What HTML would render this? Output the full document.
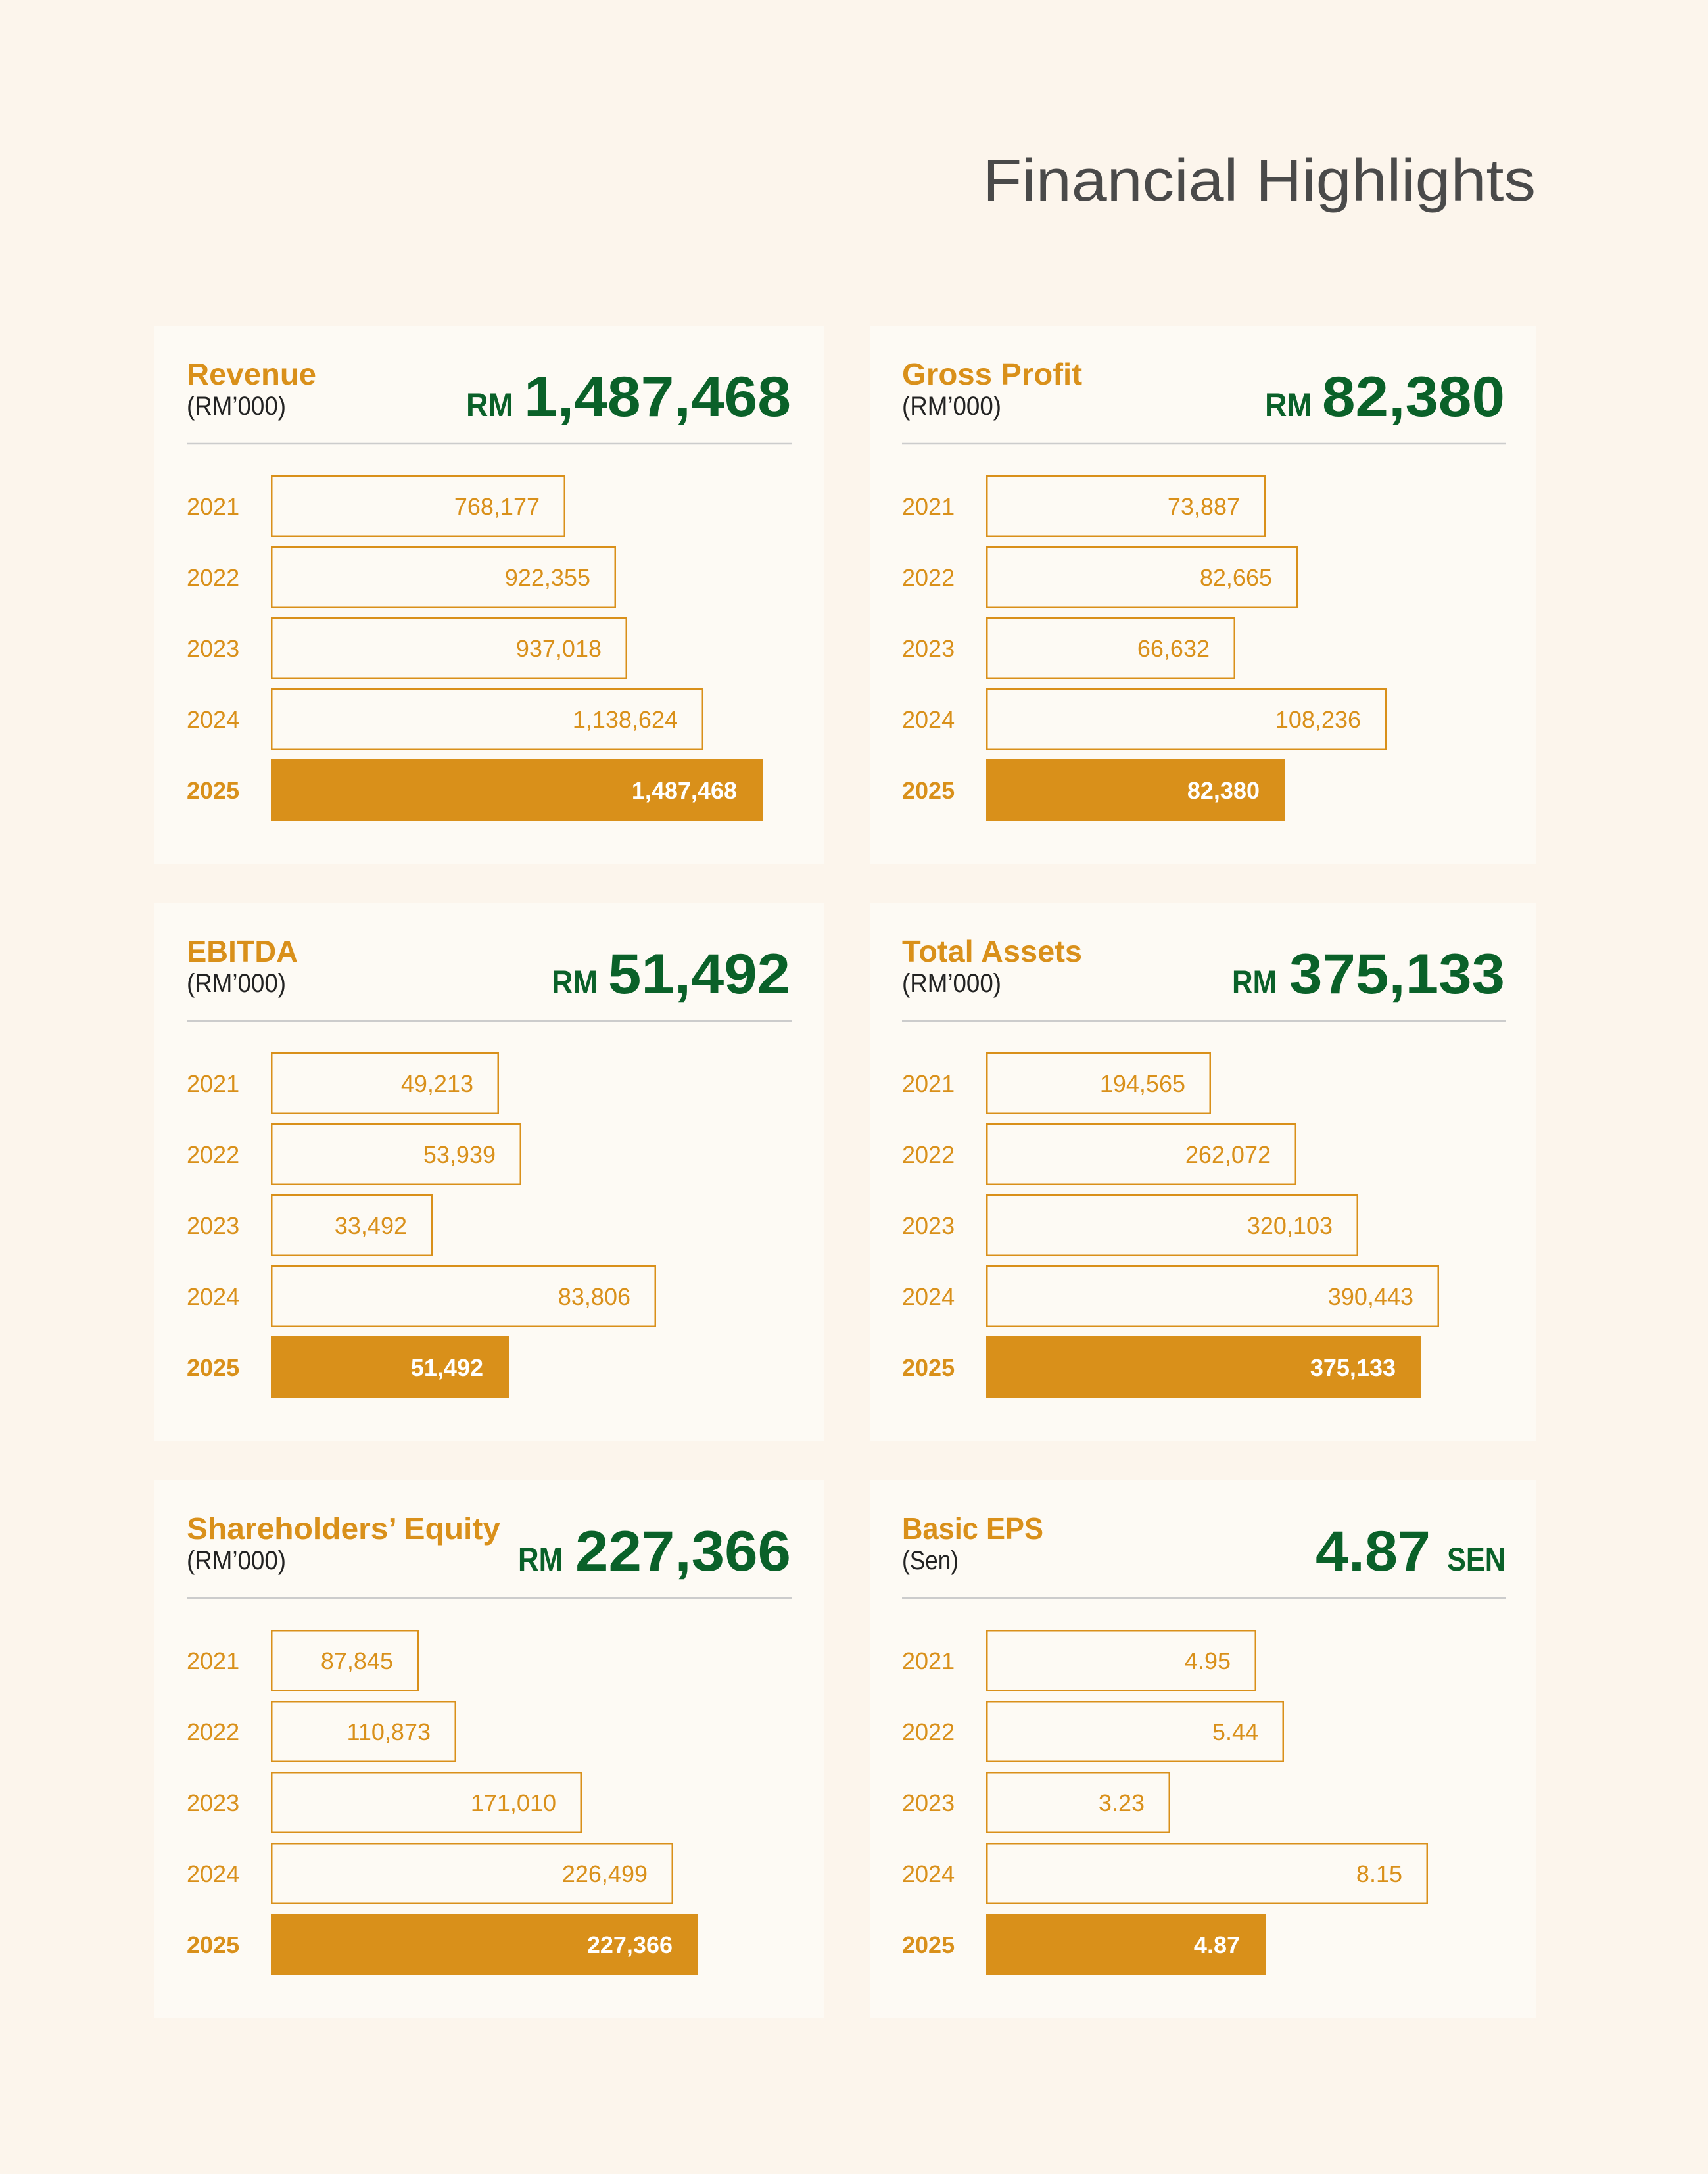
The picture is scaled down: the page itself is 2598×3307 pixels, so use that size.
<!DOCTYPE html>
<html><head><meta charset="utf-8"><style>
html,body{margin:0;padding:0;background:#fcf5ec;}
svg{display:block}
text{font-family:"Liberation Sans",sans-serif}
.h{font-weight:bold;font-size:46px;fill:#d9901a}
.s{font-size:40px;fill:#222}
.big{font-weight:bold;font-size:86px;fill:#0a6129}
.rm{font-weight:bold;font-size:50px;fill:#0a6129}
.y{font-size:36px;fill:#d9901a}
.yb{font-size:36px;fill:#d9901a;font-weight:bold}
.v{font-size:36px;fill:#d9901a;text-anchor:end}
.vb{font-size:36px;fill:#fff;font-weight:bold;text-anchor:end}
.o{fill:none;stroke:#d9901a;stroke-width:2.5}
.f{fill:#d9901a}
.card{fill:#fdfaf4}
.ln{stroke:#cccccc;stroke-width:2.5}
</style></head><body>
<svg width="2598" height="3307" viewBox="0 0 2598 3307" xmlns="http://www.w3.org/2000/svg">
<rect width="2598" height="3307" fill="#fcf5ec"/>
<text x="2336" y="305" font-size="90" fill="#4a4a4a" text-anchor="end" textLength="841" lengthAdjust="spacingAndGlyphs">Financial Highlights</text>

<!-- Revenue -->
<g transform="translate(235,496)">
<rect class="card" width="1018" height="818"/>
<text class="h" x="49" y="89" textLength="197" lengthAdjust="spacingAndGlyphs">Revenue</text>
<text class="s" x="49" y="135" textLength="151" lengthAdjust="spacingAndGlyphs">(RM’000)</text>
<text class="rm" x="474" y="137" textLength="72" lengthAdjust="spacingAndGlyphs">RM</text>
<text class="big" x="562" y="137" textLength="406" lengthAdjust="spacingAndGlyphs">1,487,468</text>
<line class="ln" x1="49" y1="179" x2="970" y2="179"/>
<text class="y" x="49" y="287">2021</text><rect class="o" x="178.25" y="228.25" width="445.5" height="91.5"/><text class="v" x="586" y="287">768,177</text>
<text class="y" x="49" y="395">2022</text><rect class="o" x="178.25" y="336.25" width="522.5" height="91.5"/><text class="v" x="663" y="395">922,355</text>
<text class="y" x="49" y="503">2023</text><rect class="o" x="178.25" y="444.25" width="539.5" height="91.5"/><text class="v" x="680" y="503">937,018</text>
<text class="y" x="49" y="611">2024</text><rect class="o" x="178.25" y="552.25" width="655.5" height="91.5"/><text class="v" x="796" y="611">1,138,624</text>
<text class="yb" x="49" y="719">2025</text><rect class="f" x="177" y="659" width="748" height="94"/><text class="vb" x="886" y="719">1,487,468</text>
</g>

<!-- Gross Profit -->
<g transform="translate(1323,496)">
<rect class="card" width="1014" height="818"/>
<text class="h" x="49" y="89" textLength="274" lengthAdjust="spacingAndGlyphs">Gross Profit</text>
<text class="s" x="49" y="135" textLength="151" lengthAdjust="spacingAndGlyphs">(RM’000)</text>
<text class="rm" x="601" y="137" textLength="72" lengthAdjust="spacingAndGlyphs">RM</text>
<text class="big" x="688" y="137" textLength="278" lengthAdjust="spacingAndGlyphs">82,380</text>
<line class="ln" x1="49" y1="179" x2="968" y2="179"/>
<text class="y" x="49" y="287">2021</text><rect class="o" x="178.25" y="228.25" width="422.5" height="91.5"/><text class="v" x="563" y="287">73,887</text>
<text class="y" x="49" y="395">2022</text><rect class="o" x="178.25" y="336.25" width="471.5" height="91.5"/><text class="v" x="612" y="395">82,665</text>
<text class="y" x="49" y="503">2023</text><rect class="o" x="178.25" y="444.25" width="376.5" height="91.5"/><text class="v" x="517" y="503">66,632</text>
<text class="y" x="49" y="611">2024</text><rect class="o" x="178.25" y="552.25" width="606.5" height="91.5"/><text class="v" x="747" y="611">108,236</text>
<text class="yb" x="49" y="719">2025</text><rect class="f" x="177" y="659" width="455" height="94"/><text class="vb" x="593" y="719">82,380</text>
</g>

<!-- EBITDA -->
<g transform="translate(235,1374)">
<rect class="card" width="1018" height="818"/>
<text class="h" x="49" y="89" textLength="169" lengthAdjust="spacingAndGlyphs">EBITDA</text>
<text class="s" x="49" y="135" textLength="151" lengthAdjust="spacingAndGlyphs">(RM’000)</text>
<text class="rm" x="604" y="137" textLength="70" lengthAdjust="spacingAndGlyphs">RM</text>
<text class="big" x="690" y="137" textLength="277" lengthAdjust="spacingAndGlyphs">51,492</text>
<line class="ln" x1="49" y1="179" x2="970" y2="179"/>
<text class="y" x="49" y="287">2021</text><rect class="o" x="178.25" y="228.25" width="344.5" height="91.5"/><text class="v" x="485" y="287">49,213</text>
<text class="y" x="49" y="395">2022</text><rect class="o" x="178.25" y="336.25" width="378.5" height="91.5"/><text class="v" x="519" y="395">53,939</text>
<text class="y" x="49" y="503">2023</text><rect class="o" x="178.25" y="444.25" width="243.5" height="91.5"/><text class="v" x="384" y="503">33,492</text>
<text class="y" x="49" y="611">2024</text><rect class="o" x="178.25" y="552.25" width="583.5" height="91.5"/><text class="v" x="724" y="611">83,806</text>
<text class="yb" x="49" y="719">2025</text><rect class="f" x="177" y="659" width="362" height="94"/><text class="vb" x="500" y="719">51,492</text>
</g>

<!-- Total Assets -->
<g transform="translate(1323,1374)">
<rect class="card" width="1014" height="818"/>
<text class="h" x="49" y="89" textLength="274" lengthAdjust="spacingAndGlyphs">Total Assets</text>
<text class="s" x="49" y="135" textLength="151" lengthAdjust="spacingAndGlyphs">(RM’000)</text>
<text class="rm" x="551" y="137" textLength="68" lengthAdjust="spacingAndGlyphs">RM</text>
<text class="big" x="638" y="137" textLength="328" lengthAdjust="spacingAndGlyphs">375,133</text>
<line class="ln" x1="49" y1="179" x2="968" y2="179"/>
<text class="y" x="49" y="287">2021</text><rect class="o" x="178.25" y="228.25" width="339.5" height="91.5"/><text class="v" x="480" y="287">194,565</text>
<text class="y" x="49" y="395">2022</text><rect class="o" x="178.25" y="336.25" width="469.5" height="91.5"/><text class="v" x="610" y="395">262,072</text>
<text class="y" x="49" y="503">2023</text><rect class="o" x="178.25" y="444.25" width="563.5" height="91.5"/><text class="v" x="704" y="503">320,103</text>
<text class="y" x="49" y="611">2024</text><rect class="o" x="178.25" y="552.25" width="686.5" height="91.5"/><text class="v" x="827" y="611">390,443</text>
<text class="yb" x="49" y="719">2025</text><rect class="f" x="177" y="659" width="662" height="94"/><text class="vb" x="800" y="719">375,133</text>
</g>

<!-- Shareholders' Equity -->
<g transform="translate(235,2252)">
<rect class="card" width="1018" height="818"/>
<text class="h" x="49" y="89" textLength="477" lengthAdjust="spacingAndGlyphs">Shareholders’ Equity</text>
<text class="s" x="49" y="135" textLength="151" lengthAdjust="spacingAndGlyphs">(RM’000)</text>
<text class="rm" x="553" y="137" textLength="68" lengthAdjust="spacingAndGlyphs">RM</text>
<text class="big" x="640" y="137" textLength="328" lengthAdjust="spacingAndGlyphs">227,366</text>
<line class="ln" x1="49" y1="179" x2="970" y2="179"/>
<text class="y" x="49" y="287">2021</text><rect class="o" x="178.25" y="228.25" width="222.5" height="91.5"/><text class="v" x="363" y="287">87,845</text>
<text class="y" x="49" y="395">2022</text><rect class="o" x="178.25" y="336.25" width="279.5" height="91.5"/><text class="v" x="420" y="395">110,873</text>
<text class="y" x="49" y="503">2023</text><rect class="o" x="178.25" y="444.25" width="470.5" height="91.5"/><text class="v" x="611" y="503">171,010</text>
<text class="y" x="49" y="611">2024</text><rect class="o" x="178.25" y="552.25" width="609.5" height="91.5"/><text class="v" x="750" y="611">226,499</text>
<text class="yb" x="49" y="719">2025</text><rect class="f" x="177" y="659" width="650" height="94"/><text class="vb" x="788" y="719">227,366</text>
</g>

<!-- Basic EPS -->
<g transform="translate(1323,2252)">
<rect class="card" width="1014" height="818"/>
<text class="h" x="49" y="89" textLength="215" lengthAdjust="spacingAndGlyphs">Basic EPS</text>
<text class="s" x="49" y="135" textLength="86" lengthAdjust="spacingAndGlyphs">(Sen)</text>
<text class="big" x="678" y="137" textLength="175" lengthAdjust="spacingAndGlyphs">4.87</text>
<text class="rm" x="878" y="137" textLength="89" lengthAdjust="spacingAndGlyphs">SEN</text>
<line class="ln" x1="49" y1="179" x2="968" y2="179"/>
<text class="y" x="49" y="287">2021</text><rect class="o" x="178.25" y="228.25" width="408.5" height="91.5"/><text class="v" x="549" y="287">4.95</text>
<text class="y" x="49" y="395">2022</text><rect class="o" x="178.25" y="336.25" width="450.5" height="91.5"/><text class="v" x="591" y="395">5.44</text>
<text class="y" x="49" y="503">2023</text><rect class="o" x="178.25" y="444.25" width="277.5" height="91.5"/><text class="v" x="418" y="503">3.23</text>
<text class="y" x="49" y="611">2024</text><rect class="o" x="178.25" y="552.25" width="669.5" height="91.5"/><text class="v" x="810" y="611">8.15</text>
<text class="yb" x="49" y="719">2025</text><rect class="f" x="177" y="659" width="425" height="94"/><text class="vb" x="563" y="719">4.87</text>
</g>
</svg>
</body></html>
